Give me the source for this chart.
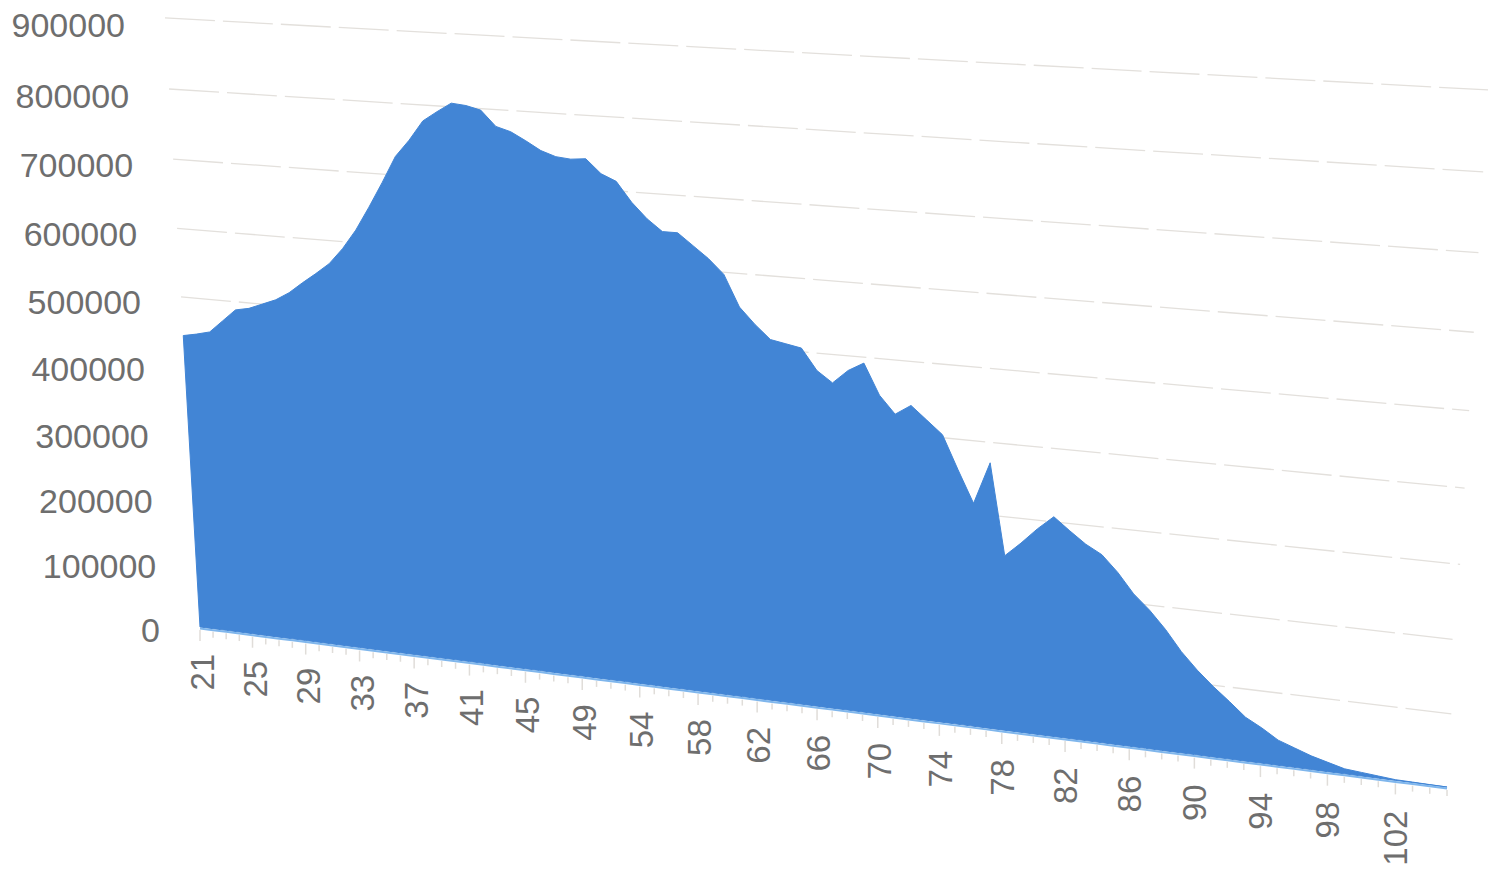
import numpy as np, pandas as pd, altair as alt

# population by category (thousands)
ages = list(range(21, 50)) + list(range(51, 106))
population_k = [443,447,452,470,488,492,500,508,520,536,551,567,590,618,652,688,726,750,778,792,
                805,803,798,777,771,760,748,741,739,741,722,713,686,665,649,649,633,617,597,554,
                532,513,509,505,476,461,480,492,450,426,440,422,404,358,314,372,246,266,288,307,
                290,274,262,240,213,193,169,141,118,98,80,61,49,35,27,19,13,7,5,3,1,0.7,0.3,0]
levels = [0,100000,200000,300000,400000,500000,600000,700000,800000,900000]
n = len(ages)
VMAX = 900000.0

# perspective of the tilted plot plane (unit square to picture, in page pixels)
G, H = -0.1318, -0.05336
def project(idx, value):
    u = np.asarray(idx, dtype=float) / (n - 1)
    v = np.asarray(value, dtype=float) / VMAX
    w = 1 + G*u + H*v
    return (200 + 1056.3*u - 43.8*v)/w, (627 + 56.3*u - 610*v)/w

idx = np.arange(n)
values = np.array(population_k)*1000.0
tx, ty = project(idx, values)
bx, by = project(idx, np.zeros(n))

poly = pd.DataFrame({
    'x': np.r_[tx, bx[::-1], tx[0]],
    'y': np.r_[ty, by[::-1], ty[0]],
})
poly['o'] = np.arange(len(poly))

xs = alt.Scale(domain=[8, 1492], range=[0, 1484], nice=False, zero=False)
ys = alt.Scale(domain=[8, 865], range=[0, 857], nice=False, zero=False)
X = lambda f: alt.X(f, type='quantitative', scale=xs, axis=None)
Y = lambda f: alt.Y(f, type='quantitative', scale=ys, axis=None)

# gridlines
gx0, gy0 = project(np.zeros(len(levels)), levels)
gx1, gy1 = project(np.full(len(levels), n-1), levels)
grid_df = pd.DataFrame({'x': gx0, 'x2': gx1, 'y': gy0, 'y2': gy1})[1:]
grid = alt.Chart(grid_df).mark_rule(color='#e3e0dc', strokeWidth=1.3, strokeDash=[50, 8]).encode(
    x=X('x'), x2='x2', y=Y('y'), y2='y2')

area = alt.Chart(poly).mark_line(fill='#4285d5', stroke='#4285d5', strokeWidth=1).encode(
    x=X('x'), y=Y('y'), order='o:Q')

edge = alt.Chart(pd.DataFrame({'x': bx, 'y': by + 1.5, 'o': idx})).mark_line(
    color='#7fb6ec', strokeWidth=2).encode(x=X('x'), y=Y('y'), order='o:Q')

# tick marks
lab_idx = np.arange(0, n, 4)
is_major = (idx % 4) == 0
tick_df = pd.DataFrame({'x': bx, 'y': by + 3, 'y2': by + np.where(is_major, 14, 9)})
ticks = alt.Chart(tick_df).mark_rule(color='#e0ddd9', strokeWidth=1.5).encode(
    x=X('x'), y=Y('y'), y2='y2')

# x labels
lx, ly = project(lab_idx, np.full(len(lab_idx), -0.045*VMAX))
xlab_df = pd.DataFrame({'x': lx + 3, 'y': ly + 1, 't': [str(ages[i]) for i in lab_idx]})
xlabs = alt.Chart(xlab_df).mark_text(font='Liberation Sans', fontSize=33, color='#6e6e6e',
                                     angle=270, align='right', baseline='middle').encode(
    x=X('x'), y=Y('y'), text='t:N')

# y labels
ylab_df = pd.DataFrame({'x': gx0 - 40, 'y': gy0 + 5 + 0.45*np.arange(len(levels)),
                        't': [str(l) for l in levels]})
ylabs = alt.Chart(ylab_df).mark_text(font='Liberation Sans', fontSize=34, color='#6e6e6e',
                                     align='right', baseline='middle').encode(
    x=X('x'), y=Y('y'), text='t:N')

chart = alt.layer(grid, ticks, area, edge, xlabs, ylabs).properties(
    width=1484, height=857, padding=0, autosize=alt.AutoSizeParams(type='none')
).configure(background='white', view=alt.ViewConfig(stroke=None))
chart.save("out.html", embed_options={"renderer": "svg", "actions": False})
